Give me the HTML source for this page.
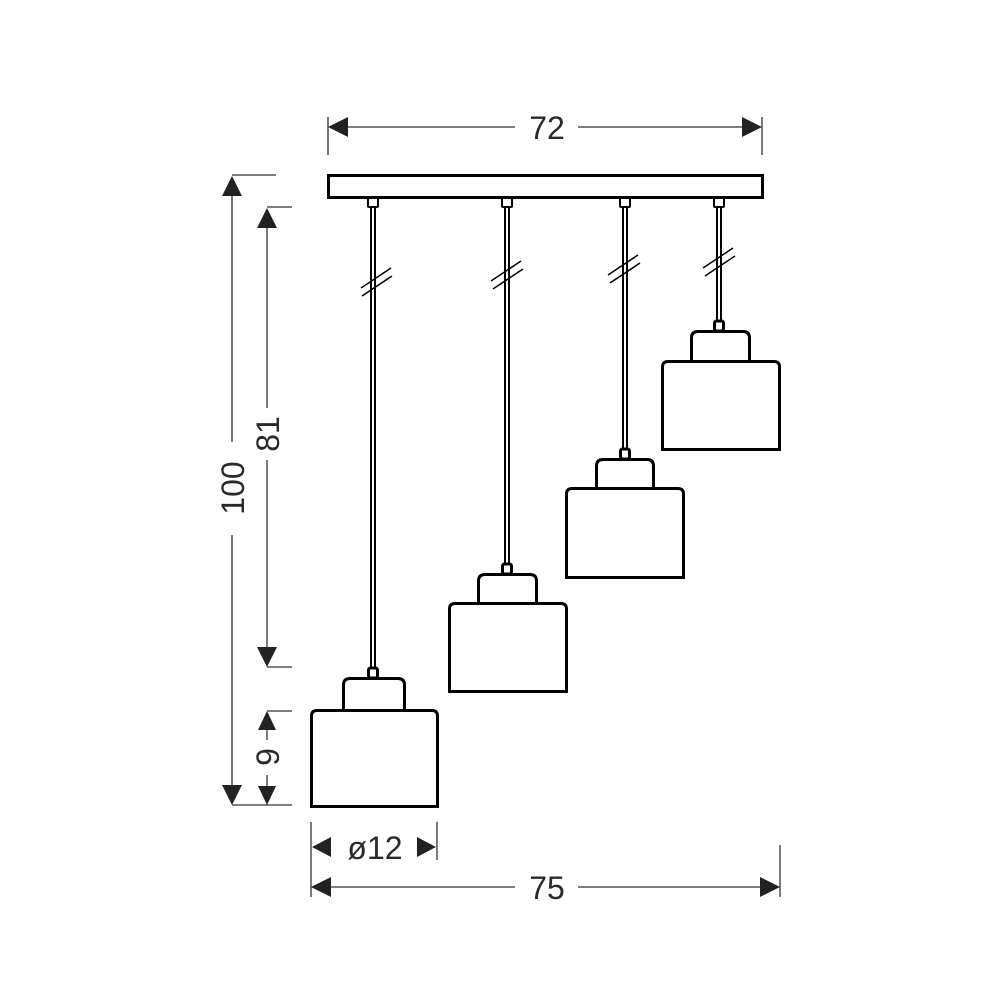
<!DOCTYPE html>
<html><head><meta charset="utf-8"><style>
html,body{margin:0;padding:0;background:#fff;}
svg{display:block}
text{font-family:"Liberation Sans",Arial,sans-serif;fill:#2a2a2a}
</style></head><body>
<svg width="1000" height="1000" viewBox="0 0 1000 1000" xmlns="http://www.w3.org/2000/svg">
<rect width="1000" height="1000" fill="#fff"/>
<!-- canopy -->
<rect x="328.5" y="175.5" width="434" height="22" fill="#fff" stroke="#000" stroke-width="3"/>
<g stroke="#000" stroke-width="2" fill="#fff">
  <!-- cords (double lines) -->
  <line x1="371" y1="206" x2="371" y2="668"/><line x1="375" y1="206" x2="375" y2="668"/>
  <line x1="505" y1="206" x2="505" y2="564"/><line x1="509" y1="206" x2="509" y2="564"/>
  <line x1="623" y1="206" x2="623" y2="449"/><line x1="627" y1="206" x2="627" y2="449"/>
  <line x1="717" y1="206" x2="717" y2="321"/><line x1="721" y1="206" x2="721" y2="321"/>
  <!-- top connectors -->
  <rect x="368" y="198" width="10" height="9" rx="1"/>
  <rect x="502" y="198" width="10" height="9" rx="1"/>
  <rect x="620" y="198" width="10" height="9" rx="1"/>
  <rect x="714" y="198" width="10" height="9" rx="1"/>
</g>
<!-- break marks -->
<g stroke="#000" stroke-width="1.5">
  <line x1="361" y1="288" x2="391" y2="268"/><line x1="362" y1="296" x2="392" y2="276"/>
  <line x1="491" y1="281" x2="521" y2="261"/><line x1="493" y1="289" x2="523" y2="269"/>
  <line x1="608" y1="275" x2="638" y2="255"/><line x1="610" y1="283" x2="640" y2="263"/>
  <line x1="703" y1="268" x2="733" y2="248"/><line x1="705" y1="276" x2="735" y2="256"/>
</g>
<!-- lamps -->
<g stroke="#000" stroke-width="3" fill="#fff">
  <rect x="368.5" y="668" width="9" height="10" rx="2"/>
  <path d="M343.5 710 V685 Q343.5 678.5 350 678.5 H398 Q404.5 678.5 404.5 685 V710"/>
  <path d="M311.5 806.5 V716 Q311.5 710.5 317 710.5 H432 Q437.5 710.5 437.5 716 V806.5 Z"/>

  <rect x="502.5" y="564" width="9" height="10" rx="2"/>
  <path d="M478.5 603 V581 Q478.5 574.5 485 574.5 H530 Q536.5 574.5 536.5 581 V603"/>
  <path d="M449.5 691.5 V609 Q449.5 603.5 455 603.5 H561 Q566.5 603.5 566.5 609 V691.5 Z"/>

  <rect x="620.5" y="449" width="9" height="10" rx="2"/>
  <path d="M596.5 488 V466 Q596.5 459.5 603 459.5 H647 Q653.5 459.5 653.5 466 V488"/>
  <path d="M566.5 577.5 V494 Q566.5 488.5 572 488.5 H678 Q683.5 488.5 683.5 494 V577.5 Z"/>

  <rect x="714.5" y="321" width="9" height="10" rx="2"/>
  <path d="M691.5 361 V338 Q691.5 331.5 698 331.5 H743 Q749.5 331.5 749.5 338 V361"/>
  <path d="M662.5 449.5 V367 Q662.5 361.5 668 361.5 H774 Q779.5 361.5 779.5 367 V449.5 Z"/>
</g>
<!-- dimension lines -->
<g stroke="#333" stroke-width="1.3" fill="none">
  <line x1="328" y1="117" x2="328" y2="155"/><line x1="762" y1="117" x2="762" y2="155"/>
  <line x1="345" y1="127" x2="515" y2="127"/><line x1="578" y1="127" x2="745" y2="127"/>
  <line x1="232" y1="175" x2="276" y2="175"/><line x1="232" y1="805" x2="292" y2="805"/>
  <line x1="232" y1="194" x2="232" y2="442"/><line x1="232" y1="535" x2="232" y2="788"/>
  <line x1="267" y1="207" x2="292" y2="207"/><line x1="267" y1="667" x2="292" y2="667"/>
  <line x1="267" y1="225" x2="267" y2="408"/><line x1="267" y1="460" x2="267" y2="650"/>
  <line x1="267" y1="711" x2="292" y2="711"/>
  <line x1="267" y1="728" x2="267" y2="740"/><line x1="267" y1="775" x2="267" y2="788"/>
  <line x1="311" y1="822" x2="311" y2="897"/><line x1="437" y1="822" x2="437" y2="860"/>
  <line x1="780" y1="845" x2="780" y2="897"/>
  <line x1="328" y1="887" x2="515" y2="887"/><line x1="578" y1="887" x2="763" y2="887"/>
</g>
<g fill="#222">
  <path d="M328 127 L348 117 L348 137 Z"/><path d="M762 127 L742 117 L742 137 Z"/>
  <path d="M232 176 L222 196 L242 196 Z"/><path d="M232 805 L222 785 L242 785 Z"/>
  <path d="M267 208 L257 228 L277 228 Z"/><path d="M267 667 L257 647 L277 647 Z"/>
  <path d="M267 711 L258 730 L276 730 Z"/><path d="M267 805 L258 786 L276 786 Z"/>
  <path d="M312 847 L331 837 L331 857 Z"/><path d="M436 847 L417 837 L417 857 Z"/>
  <path d="M311 887 L331 877 L331 897 Z"/><path d="M780 887 L760 877 L760 897 Z"/>
</g>
<g font-size="32" text-anchor="middle">
  <text x="547" y="139">72</text>
  <text x="547" y="899">75</text>
  <text x="375" y="859">ø12</text>
  <text transform="translate(244,488) rotate(-90)">100</text>
  <text transform="translate(279,434) rotate(-90)">81</text>
  <text transform="translate(279,757) rotate(-90)">9</text>
</g>
</svg>
</body></html>
